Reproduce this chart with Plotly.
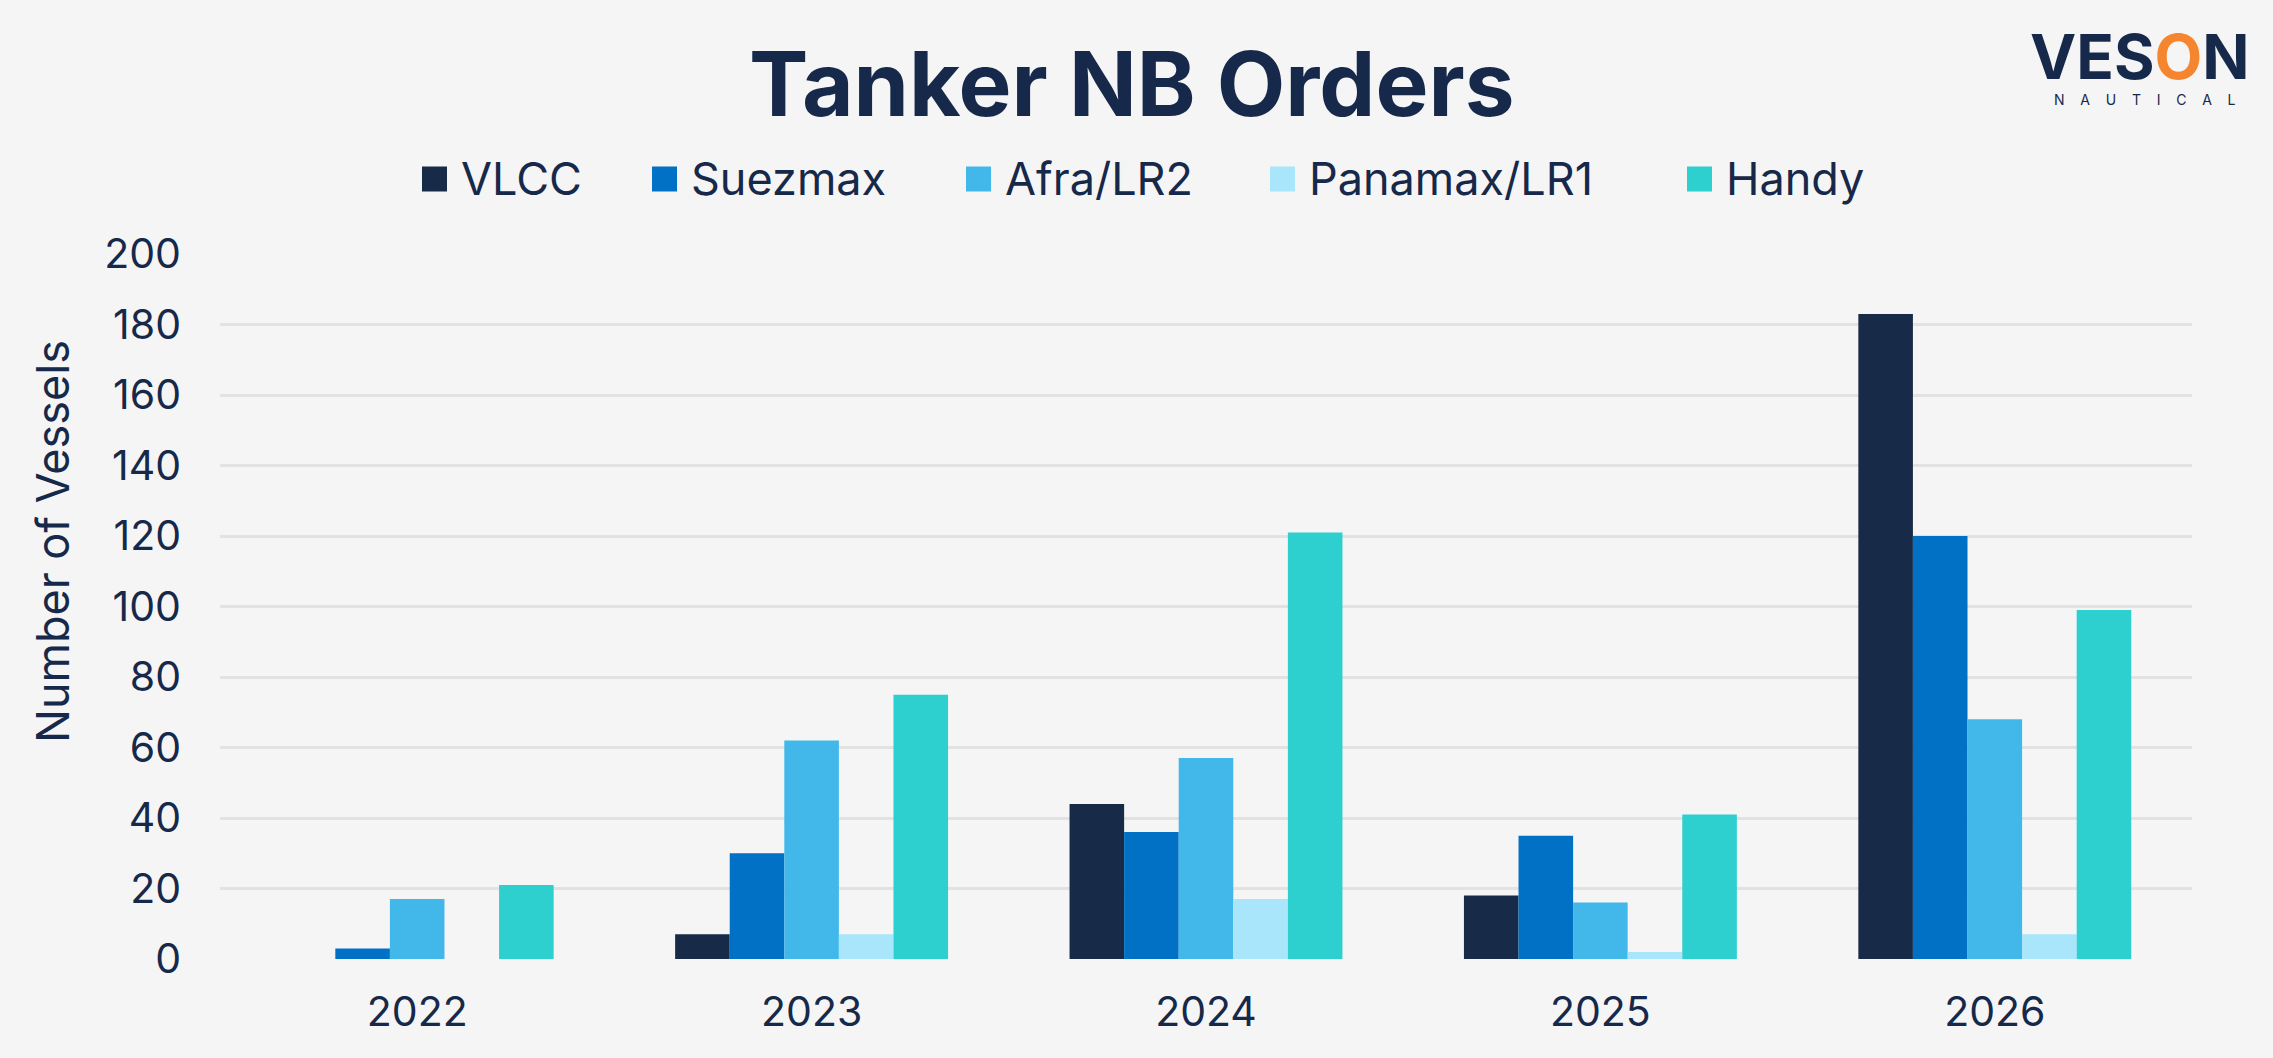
import plotly.graph_objects as go

# ---------------- data ----------------
years = ["2022", "2023", "2024", "2025", "2026"]
series_names = ["VLCC", "Suezmax", "Afra/LR2", "Panamax/LR1", "Handy"]
vlcc = [0, 7, 44, 18, 183]
suezmax = [3, 30, 36, 35, 120]
afra_lr2 = [17, 62, 57, 16, 68]
panamax_lr1 = [0, 7, 17, 2, 7]
handy = [21, 75, 121, 41, 99]
y_ticks = [0, 20, 40, 60, 80, 100, 120, 140, 160, 180, 200]

series_values = [vlcc, suezmax, afra_lr2, panamax_lr1, handy]

# ---------------- styles ----------------
colors = ["#172A47", "#0071C5", "#42B8EA", "#A9E6FC", "#2ECFCF"]
navy = "#17294A"
bg = "#F5F5F5"
grid = "#E2E2E2"
FONT = "Inter"
W, H = 2273, 1058
ML, MR, MT, MB = 220, 81, 254, 99

fig = go.Figure()
for name, vals, col in zip(series_names, series_values, colors):
    fig.add_trace(go.Bar(
        x=years, y=vals, name=name,
        marker=dict(color=col, line=dict(width=0)),
        showlegend=False,
    ))


def px_x(p):
    return (p - ML) / (W - ML - MR)


def px_y(p):
    return (H - MB - p) / (H - MT - MB)


# manual legend (bigger square symbols than plotly's fixed legend glyphs)
legend_text_x = [459, 689, 1003, 1307, 1724]  # px, left edge of label text
legend_y = 179
sq = 25
shapes = []
annotations = []
for name, col, tx in zip(series_names, colors, legend_text_x):
    x0 = tx - 12 - sq
    shapes.append(dict(
        type="rect", xref="paper", yref="paper",
        x0=px_x(x0), x1=px_x(x0 + sq),
        y0=px_y(legend_y + sq / 2), y1=px_y(legend_y - sq / 2),
        fillcolor=col, line=dict(width=0),
    ))
    annotations.append(dict(
        text=name, xref="paper", yref="paper", showarrow=False,
        x=px_x(tx), xanchor="left",
        y=px_y(legend_y), yanchor="middle",
        font=dict(family=FONT, size=45, color=navy),
    ))

# y-axis title
annotations.append(dict(
    text="Number of Vessels", xref="paper", yref="paper", showarrow=False,
    x=px_x(52), y=px_y(542), xanchor="center", yanchor="middle",
    textangle=-90, font=dict(family=FONT, size=45, color=navy),
))

# title
annotations.append(dict(
    text="<b>Tanker NB Orders</b>", xref="paper", yref="paper", showarrow=False,
    x=px_x(1132), y=px_y(83), xanchor="center", yanchor="middle",
    font=dict(family=FONT, size=89, color=navy),
))

# logo
annotations.append(dict(
    text="<b>VES<span style='color:#F5862F'>O</span>N</b>", xref="paper", yref="paper",
    showarrow=False, x=px_x(2140), y=px_y(56), xanchor="center", yanchor="middle",
    font=dict(family=FONT, size=62, color=navy),
))
sp = "\u00a0" * 4
annotations.append(dict(
    text=sp.join(list("NAUTICAL")), xref="paper", yref="paper",
    showarrow=False, x=px_x(2145), y=px_y(99), xanchor="center", yanchor="middle",
    font=dict(family=FONT, size=14, color=navy),
))

fig.update_layout(
    width=W, height=H,
    margin=dict(l=ML, r=MR, t=MT, b=MB, pad=0),
    paper_bgcolor=bg, plot_bgcolor=bg,
    barmode="group", bargap=0.308, bargroupgap=0,
    shapes=shapes, annotations=annotations,
    font=dict(family=FONT, color=navy),
)
fig.update_xaxes(
    type="category", showgrid=False, zeroline=False, showline=False,
    ticks="", tickfont=dict(family=FONT, size=41, color=navy),
    ticklabelstandoff=25,
)
fig.update_yaxes(
    range=[0, 200], tickvals=y_ticks, showgrid=True, gridcolor=grid, gridwidth=2.5,
    zeroline=False, showline=False, ticks="",
    tickfont=dict(family=FONT, size=41, color=navy),
    ticklabelstandoff=38,
)

fig.write_html("out.html")
